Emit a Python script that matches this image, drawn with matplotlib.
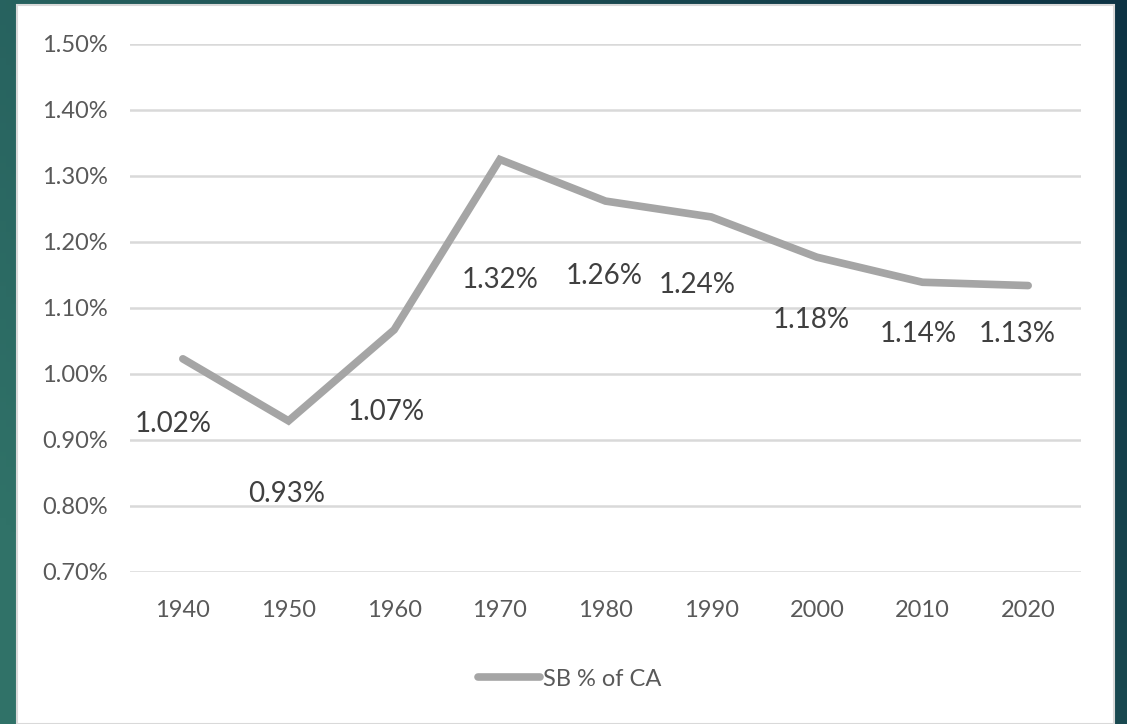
import numpy as np
import matplotlib
matplotlib.use('Agg')
import matplotlib.pyplot as plt
from matplotlib.patches import Rectangle
from matplotlib.ticker import FuncFormatter, MultipleLocator

years = ['1940', '1950', '1960', '1970', '1980', '1990', '2000', '2010', '2020']
sb_pct = [1.023, 0.929, 1.067, 1.325, 1.262, 1.238, 1.177, 1.139, 1.134]
labels = ['1.02%', '0.93%', '1.07%', '1.32%', '1.26%', '1.24%', '1.18%', '1.14%', '1.13%']

# label offsets in points (placed by hand in the original)
label_dx = [-7, -1, -6, 0, -1, -10, -4, -3, -8]
label_dy = [-47, -53, -59, -87, -54, -49, -45, -37, -35]

plt.rcParams['font.family'] = ['Lato', 'DejaVu Sans']

W, H = 1127, 724
fig = plt.figure(figsize=(W / 100, H / 100), dpi=100)

# teal gradient background
bg = fig.add_axes([0, 0, 1, 1])
gx, gy = np.meshgrid(np.linspace(0, 1, 200), np.linspace(0, 1, 200))
t = np.clip(0.75 * gx + 0.35 * (1 - gy) - 0.1, 0, 1)
c0 = np.array([0x30, 0x72, 0x68]) / 255
c1 = np.array([0x0d, 0x33, 0x44]) / 255
img = c0[None, None, :] * (1 - t[..., None]) + c1[None, None, :] * t[..., None]
bg.imshow(img, aspect='auto', extent=[0, 1, 0, 1])
bg.axis('off')

# white chart panel
fig.patches.append(Rectangle((17 / W, 0), (1114 - 17) / W, (H - 5) / H,
                             transform=fig.transFigure, facecolor='white',
                             edgecolor='#d9d9d9', linewidth=1.5, zorder=1))

ax = fig.add_axes([130 / W, 1 - 572 / H, (1081 - 130) / W, (572 - 44) / H])
ax.set_zorder(2)
ax.patch.set_alpha(0)

x = np.arange(len(years))
ax.plot(x, sb_pct, color='#a5a5a5', linewidth=5.5, solid_capstyle='round',
        solid_joinstyle='miter', label='SB % of CA', zorder=3)

for i, lab in enumerate(labels):
    ax.annotate(lab, (x[i], sb_pct[i]), xytext=(label_dx[i], label_dy[i]),
                textcoords='offset points', ha='center', va='center',
                fontsize=20, color='#404040')

ax.set_xlim(-0.5, len(years) - 0.5)
ax.set_ylim(0.70, 1.50)
ax.yaxis.set_major_locator(MultipleLocator(0.1))
ax.yaxis.set_major_formatter(FuncFormatter(lambda v, p: f'{v:.2f}%'))
ax.set_xticks(x)
ax.set_xticklabels(years)
ax.grid(axis='y', color='#d9d9d9', linewidth=1.8)
ax.set_axisbelow(True)
for s in ax.spines.values():
    s.set_visible(False)
ax.tick_params(axis='both', length=0, labelsize=17, colors='#595959')
ax.tick_params(axis='y', pad=16)
ax.tick_params(axis='x', pad=20)

fig.legend(loc='center', bbox_to_anchor=(570 / W, 1 - 679 / H), frameon=False,
           fontsize=17, labelcolor='#595959', handlelength=2.6,
           handletextpad=0.15)

fig.savefig('out.png', dpi=100)
